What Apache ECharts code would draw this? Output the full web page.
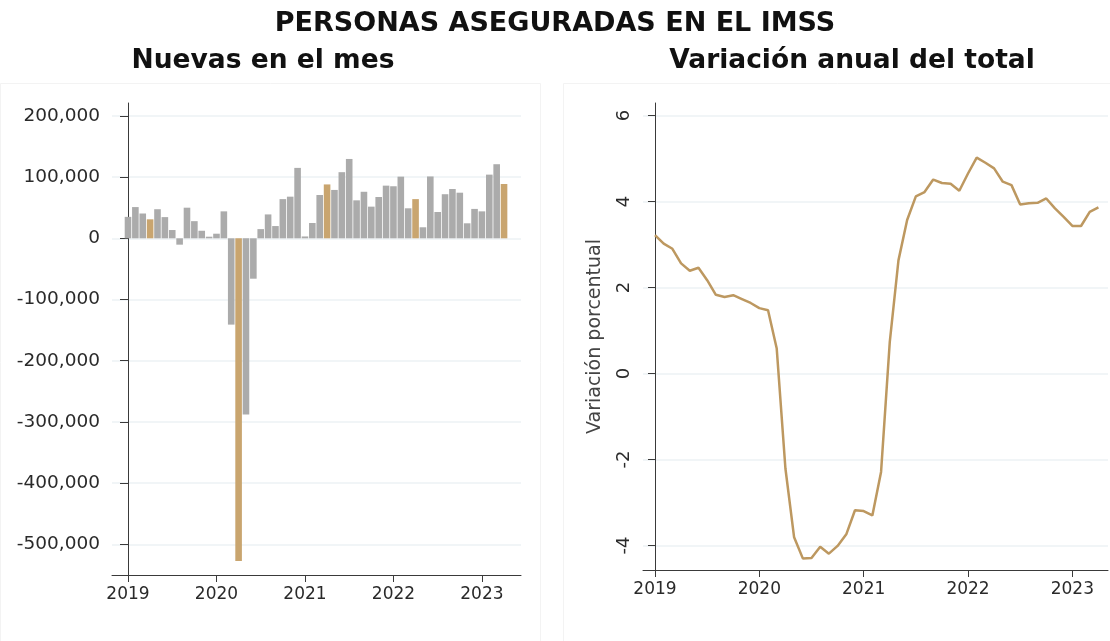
<!DOCTYPE html>
<html>
<head>
<meta charset="utf-8">
<script src="https://cdn.jsdelivr.net/npm/echarts@6/dist/echarts.min.js"></script>
<style>
  html, body { margin: 0; padding: 0; background: #fff; }
  #chart { width: 1110px; height: 641px; }
</style>
</head>
<body>
<div id="chart"></div>
<script>
// months counted from Jan 2019 (0) to Apr 2023 (51)
const months = [];
for (let i = 0; i < 52; i++) months.push(i);

// new insured persons in the month
const nuevas = [
  35000, 51000, 40500, 31000, 47500, 34600, 13500, -10400, 50000, 28000, 12300, 2600,
  7500, 44000, -141000, -527000, -288000, -66000, 15000, 39000, 20000, 64000, 68000, 115000,
  3000, 25000, 70700, 88000, 79000, 108000, 129600, 62000, 76000, 51700, 67500, 86000,
  85000, 100700, 49000, 64000, 18000, 101000, 43000, 72000, 80500, 74500, 24500, 48000,
  44000, 104000, 121000, 88700
];

// annual change of total, percent
const variacion = [
  3.22, 3.02, 2.90, 2.56, 2.39, 2.46, 2.17, 1.83, 1.78, 1.82, 1.73, 1.64,
  1.52, 1.47, 0.58, -2.21, -3.81, -4.30, -4.29, -4.03, -4.19, -4.01, -3.74, -3.18,
  -3.20, -3.30, -2.29, 0.73, 2.63, 3.57, 4.12, 4.22, 4.51, 4.43, 4.41, 4.25,
  4.65, 5.02, 4.90, 4.77, 4.46, 4.38, 3.93, 3.96, 3.97, 4.07, 3.84, 3.64,
  3.43, 3.43, 3.76, 3.86
];

const yearTicks = [0, 12, 24, 36, 48];
const leftTicks = [-500000, -400000, -300000, -200000, -100000, 0, 100000, 200000];
const rightTicks = [-4, -2, 0, 2, 4, 6];
const highlightMonth = 3; // April

const font = 'DejaVu Sans';
const gray = '#ababab';
const gold = '#c9a56f';
const lineGold = '#bd9860';
const axisColor = '#3a3a3a';
const gridColor = '#edf2f4';
const labelColor = '#2a2a2a';

let myChart = echarts.init(document.getElementById('chart'));

const xAxisBase = {
  type: 'value',
  axisLine: { show: true, onZero: false, lineStyle: { color: axisColor, width: 1 } },
  axisTick: { show: true, customValues: yearTicks, length: 7, lineStyle: { color: axisColor } },
  axisLabel: {
    customValues: yearTicks,
    formatter: v => String(2019 + v / 12),
    color: labelColor, fontFamily: font, fontSize: 17, margin: 11
  },
  splitLine: { show: false }
};

myChart.setOption({
  animation: false,
  textStyle: { fontFamily: font },
  title: [
    { text: 'PERSONAS ASEGURADAS EN EL IMSS', left: 'center', top: 5,
      textStyle: { fontSize: 27, fontWeight: 'bold', color: '#111', fontFamily: font } },
    { text: 'Nuevas en el mes', left: 258, textAlign: 'center', top: 43,
      textStyle: { fontSize: 26.5, fontWeight: 'bold', color: '#111', fontFamily: font } },
    { text: 'Variación anual del total', left: 847, textAlign: 'center', top: 43,
      textStyle: { fontSize: 26.5, fontWeight: 'bold', color: '#111', fontFamily: font } }
  ],
  graphic: [
    { type: 'rect', shape: { x: 0.5, y: 83.5, width: 540, height: 560 }, style: { fill: 'none', stroke: '#f3f3f3' }, silent: true },
    { type: 'rect', shape: { x: 563.5, y: 83.5, width: 550, height: 560 }, style: { fill: 'none', stroke: '#f3f3f3' }, silent: true }
  ],
  grid: [
    { left: 112, top: 103, width: 409, height: 472 },
    { left: 643, top: 103, width: 465, height: 467 }
  ],
  xAxis: [
    Object.assign({}, xAxisBase, { gridIndex: 0, min: -2.17, max: 53.3 }),
    Object.assign({}, xAxisBase, { gridIndex: 1, min: -1.38, max: 52.1 })
  ],
  yAxis: [
    {
      type: 'value', gridIndex: 0, min: -550000, max: 221000,
      axisLine: { show: true, lineStyle: { color: axisColor } },
      axisTick: { show: true, customValues: leftTicks, length: 8, lineStyle: { color: axisColor } },
      axisLabel: {
        customValues: leftTicks,
        formatter: v => v.toLocaleString('en-US'),
        color: labelColor, fontFamily: font, fontSize: 18.5, margin: 12
      },
      splitLine: { show: true, customValues: leftTicks, lineStyle: { color: gridColor, width: 1.5 } }
    },
    {
      type: 'value', gridIndex: 1, min: -4.57, max: 6.29,
      name: 'Variación porcentual', nameLocation: 'middle', nameGap: 38,
      nameTextStyle: { color: '#444', fontFamily: font, fontSize: 19 },
      axisLine: { show: true, lineStyle: { color: axisColor } },
      axisTick: { show: true, customValues: rightTicks, length: 7, lineStyle: { color: axisColor } },
      axisLabel: {
        customValues: rightTicks, rotate: 90,
        color: labelColor, fontFamily: font, fontSize: 18, margin: 10
      },
      splitLine: { show: true, customValues: rightTicks, lineStyle: { color: gridColor, width: 1.5 } }
    }
  ],
  series: [
    {
      type: 'bar', xAxisIndex: 0, yAxisIndex: 0,
      barWidth: 6.6,
      data: months.map((m, i) => [m, nuevas[i]]),
      itemStyle: { color: p => (p.data[0] % 12 === highlightMonth ? gold : gray) }
    },
    {
      type: 'line', xAxisIndex: 1, yAxisIndex: 1,
      showSymbol: false, symbol: 'none',
      lineStyle: { color: lineGold, width: 2.5 },
      data: months.map((m, i) => [m, variacion[i]])
    }
  ]
});
</script>
</body>
</html>
